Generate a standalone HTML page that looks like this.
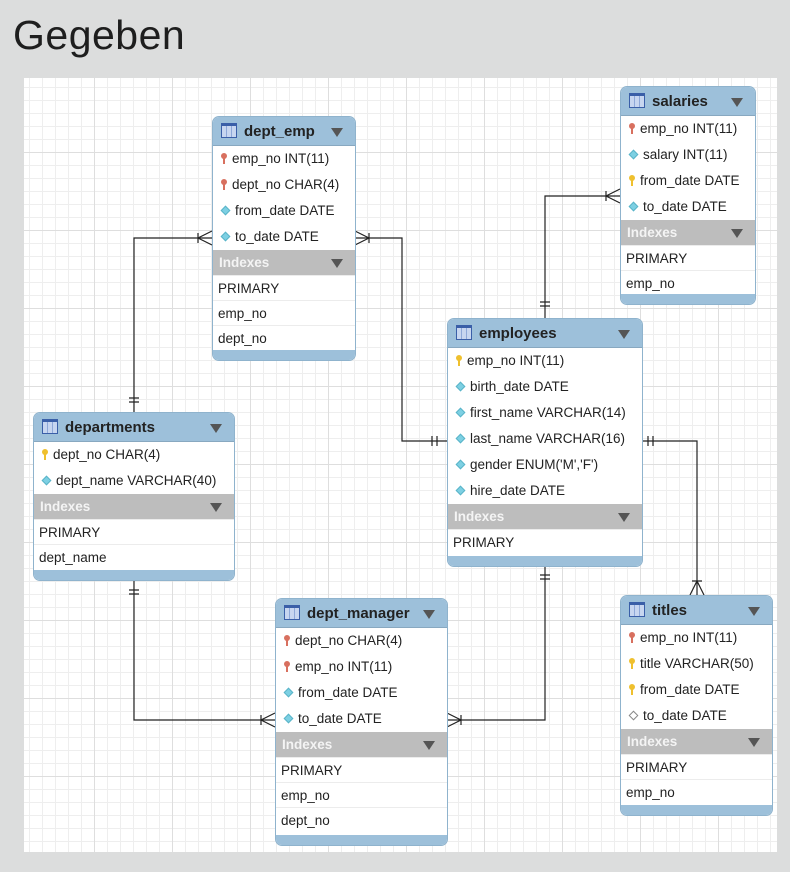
<!DOCTYPE html>
<html><head><meta charset="utf-8"><style>
*{margin:0;padding:0;box-sizing:border-box}
body{width:790px;height:872px;background:#dcdddd;position:relative;overflow:hidden;font-family:"Liberation Sans",sans-serif}
h1{position:absolute;left:13px;top:12px;font-weight:normal;font-size:41px;color:#1e1e1e;letter-spacing:0.5px}
#cv{position:absolute;left:24px;top:78px;width:753px;height:774px;background-color:#fff;
background-image:linear-gradient(#dedede 1px,transparent 1px),linear-gradient(90deg,#dedede 1px,transparent 1px),linear-gradient(#eeeeee 1px,transparent 1px),linear-gradient(90deg,#eeeeee 1px,transparent 1px);
background-size:78px 78px,78px 78px,13px 13px,13px 13px;background-position:-8px -4px}
.t{position:absolute;background:#fff;border:1px solid #8fb3cd;border-radius:7px;overflow:hidden;font-size:13.5px;color:#222}
.h{height:29px;background:#9dc0da;font-weight:bold;font-size:15px;line-height:29px;padding-left:8px;position:relative;border-bottom:1px solid #88a8c0}
.h i{display:inline-block;width:16px;height:15px;border:1px solid #3a5fa8;background:repeating-linear-gradient(90deg,#c7d6f0 0 4px,#8ea8d8 4px 5px);vertical-align:-2px;margin-right:7px;border-top:3px solid #3a5fa8}
.ar{position:absolute;right:12px;top:11px;width:0;height:0;border-left:6px solid transparent;border-right:6px solid transparent;border-top:9px solid #555}
.r{height:26px;line-height:26px;padding-left:6px;white-space:nowrap}
.ix{height:25px;line-height:25px;background:#bdbdbd;color:#f4f4f4;font-weight:bold;padding-left:6px;position:relative}
.ix .ar{top:9px}
.ir{height:25px;line-height:25px;padding-left:5px;border-top:1px solid #ececec}
.f{height:10px;background:#9dc0da;position:absolute;bottom:0;left:0;right:0}
.k{display:inline-block;width:6px;height:11px;margin:0 5px 0 2px;vertical-align:-1px;position:relative}
.k:before{content:"";position:absolute;left:0;top:0;width:6px;height:6px;border-radius:50%;background:inherit}
.k:after{content:"";position:absolute;left:2px;top:4px;width:2px;height:7px;background:inherit}
.kr{background:transparent}.kr:before,.kr:after{background:#d8705f}
.ky{background:transparent}.ky:before,.ky:after{background:#efc02e}
.d{display:inline-block;width:7px;height:7px;transform:rotate(45deg);background:#7dd0e3;border:1px solid #5ab4c8;margin:0 6px 0 3px;vertical-align:1px}
.o{background:#fff;border-color:#888}
</style></head><body>
<h1>Gegeben</h1>
<div id="cv"></div>
<svg style="position:absolute;left:0;top:0" width="790" height="872" fill="none" stroke="#222" stroke-width="1.2">
<!-- departments - dept_emp -->
<path d="M134 412V238H212"/><path d="M129 398h10M129 402h10"/><path d="M198 233v10M212 231L198 238L212 245"/>
<!-- dept_emp - employees -->
<path d="M355 238H402V441H447"/><path d="M369 233v10M355 231L369 238L355 245"/><path d="M432 436v10M437 436v10"/>
<!-- employees - salaries -->
<path d="M545 318V196H620"/><path d="M540 302h10M540 306h10"/><path d="M606 191v10M620 189L606 196L620 203"/>
<!-- employees - titles -->
<path d="M642 441H697V595"/><path d="M648 436v10M653 436v10"/><path d="M692 581h10M690 595L697 581L704 595"/>
<!-- departments - dept_manager -->
<path d="M134 580V720H275"/><path d="M129 590h10M129 594h10"/><path d="M261 715v10M275 713L261 720L275 727"/>
<!-- employees - dept_manager -->
<path d="M545 566V720H447"/><path d="M540 575h10M540 579h10"/><path d="M461 715v10M447 713L461 720L447 727"/>
</svg>

<div class="t" style="left:212px;top:116px;width:144px;height:245px">
<div class="h"><i></i>dept_emp<span class="ar"></span></div>
<div class="r"><span class="k kr"></span>emp_no INT(11)</div>
<div class="r"><span class="k kr"></span>dept_no CHAR(4)</div>
<div class="r"><span class="d"></span>from_date DATE</div>
<div class="r"><span class="d"></span>to_date DATE</div>
<div class="ix">Indexes<span class="ar"></span></div>
<div class="ir">PRIMARY</div><div class="ir">emp_no</div><div class="ir">dept_no</div>
<div class="f"></div></div>

<div class="t" style="left:620px;top:86px;width:136px;height:219px">
<div class="h"><i></i>salaries<span class="ar"></span></div>
<div class="r"><span class="k kr"></span>emp_no INT(11)</div>
<div class="r"><span class="d"></span>salary INT(11)</div>
<div class="r"><span class="k ky"></span>from_date DATE</div>
<div class="r"><span class="d"></span>to_date DATE</div>
<div class="ix">Indexes<span class="ar"></span></div>
<div class="ir">PRIMARY</div><div class="ir">emp_no</div>
<div class="f"></div></div>

<div class="t" style="left:447px;top:318px;width:196px;height:249px">
<div class="h"><i></i>employees<span class="ar"></span></div>
<div class="r"><span class="k ky"></span>emp_no INT(11)</div>
<div class="r"><span class="d"></span>birth_date DATE</div>
<div class="r"><span class="d"></span>first_name VARCHAR(14)</div>
<div class="r"><span class="d"></span>last_name VARCHAR(16)</div>
<div class="r"><span class="d"></span>gender ENUM('M','F')</div>
<div class="r"><span class="d"></span>hire_date DATE</div>
<div class="ix">Indexes<span class="ar"></span></div>
<div class="ir">PRIMARY</div>
<div class="f"></div></div>

<div class="t" style="left:33px;top:412px;width:202px;height:169px">
<div class="h"><i></i>departments<span class="ar"></span></div>
<div class="r"><span class="k ky"></span>dept_no CHAR(4)</div>
<div class="r"><span class="d"></span>dept_name VARCHAR(40)</div>
<div class="ix">Indexes<span class="ar"></span></div>
<div class="ir">PRIMARY</div><div class="ir">dept_name</div>
<div class="f"></div></div>

<div class="t" style="left:275px;top:598px;width:173px;height:248px">
<div class="h"><i></i>dept_manager<span class="ar"></span></div>
<div class="r"><span class="k kr"></span>dept_no CHAR(4)</div>
<div class="r"><span class="k kr"></span>emp_no INT(11)</div>
<div class="r"><span class="d"></span>from_date DATE</div>
<div class="r"><span class="d"></span>to_date DATE</div>
<div class="ix">Indexes<span class="ar"></span></div>
<div class="ir">PRIMARY</div><div class="ir">emp_no</div><div class="ir">dept_no</div>
<div class="f"></div></div>

<div class="t" style="left:620px;top:595px;width:153px;height:221px">
<div class="h"><i></i>titles<span class="ar"></span></div>
<div class="r"><span class="k kr"></span>emp_no INT(11)</div>
<div class="r"><span class="k ky"></span>title VARCHAR(50)</div>
<div class="r"><span class="k ky"></span>from_date DATE</div>
<div class="r"><span class="d o"></span>to_date DATE</div>
<div class="ix">Indexes<span class="ar"></span></div>
<div class="ir">PRIMARY</div><div class="ir">emp_no</div>
<div class="f"></div></div>
</body></html>
